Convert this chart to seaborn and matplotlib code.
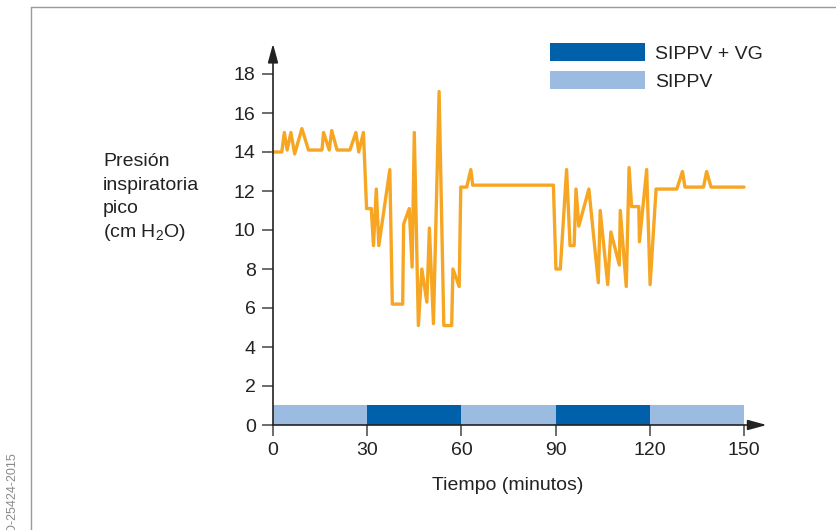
import matplotlib
matplotlib.use("Agg")
import matplotlib.pyplot as plt
from matplotlib.patches import Patch
from matplotlib.lines import Line2D
import seaborn as sns
import pandas as pd

# ---- data -------------------------------------------------------------
tiempo = [0, 2.8, 3.6, 4.5, 5.7, 6.9, 9.2, 11.3, 15.6, 16.1,
          17.9, 18.7, 20.4, 24.5, 26.4, 27.3, 28.8, 29.8, 31.3, 32.0,
          32.9, 33.7, 37.2, 38.0, 41.3, 41.6, 43.4, 44.3, 45.0, 46.3,
          47.4, 49.0, 49.8, 51.1, 52.9, 54.4, 56.9, 57.3, 59.3, 59.8,
          61.7, 63.0, 63.6, 89.3, 90.1, 91.5, 93.5, 94.6, 95.9, 96.5,
          97.4, 100.6, 103.6, 104.2, 106.6, 107.6, 110.3, 110.6, 112.5, 113.4,
          114.2, 116.5, 116.7, 119.0, 120.1, 122.0, 128.6, 130.4, 131.2, 137.1,
          138.1, 139.5, 150]
presion = [14.0, 14.0, 15.0, 14.1, 15.0, 13.9, 15.2, 14.1, 14.1, 15.0,
           14.1, 15.1, 14.1, 14.1, 15.0, 14.0, 15.0, 11.1, 11.1, 9.2,
           12.1, 9.2, 13.1, 6.2, 6.2, 10.3, 11.1, 8.1, 15.0, 5.1,
           8.0, 6.3, 10.1, 5.2, 17.1, 5.1, 5.1, 8.0, 7.1, 12.2,
           12.2, 13.1, 12.3, 12.3, 8.0, 8.0, 13.1, 9.2, 9.2, 12.1,
           10.2, 12.1, 7.3, 11.0, 7.2, 9.9, 8.2, 11.0, 7.1, 13.2,
           11.2, 11.2, 9.4, 13.1, 7.2, 12.1, 12.1, 13.0, 12.2, 12.2,
           13.0, 12.2, 12.2]

modo_inicio = [0, 30, 60, 90, 120]
modo_nombre = ["SIPPV", "SIPPV + VG", "SIPPV", "SIPPV + VG", "SIPPV"]
modo_altura = [1.05, 1.05, 1.05, 1.05, 1.05]

x_ticks = [0, 30, 60, 90, 120, 150]
y_ticks = [0, 2, 4, 6, 8, 10, 12, 14, 16, 18]

ylabel_lines = ["Presión", "inspiratoria", "pico", r"(cm H$_2$O)"]
xlabel = "Tiempo (minutos)"
codigo = "D-25424-2015"

# ---- style --------------------------------------------------------------
sns.set_theme(style="white")
plt.rcParams["font.family"] = ["Liberation Sans", "DejaVu Sans"]
plt.rcParams["mathtext.fontset"] = "custom"
plt.rcParams["mathtext.rm"] = "Liberation Sans"
plt.rcParams["mathtext.default"] = "regular"

ORANGE = "#F6A623"
DARK = "#0060A9"
LIGHT = "#9BBBE0"
colores = {"SIPPV": LIGHT, "SIPPV + VG": DARK}
FS = 14
TXT = "#222222"

W, H = 837, 530
fig = plt.figure(figsize=(W / 100, H / 100), dpi=100)
x0, x1, y0, y1 = 273, 744, 425, 74
ax = fig.add_axes([x0 / W, 1 - y0 / H, (x1 - x0) / W, (y0 - y1) / H])

# mode bands
ax.bar(modo_inicio, modo_altura, width=30, align="edge",
       color=[colores[m] for m in modo_nombre], linewidth=0, zorder=1)

# pressure line
df = pd.DataFrame({"t": tiempo, "p": presion})
sns.lineplot(data=df, x="t", y="p", ax=ax, color=ORANGE, linewidth=2.4,
             zorder=3, clip_on=False)

ax.set_xlim(0, 150)
ax.set_ylim(0, 18)
ax.set_xticks(x_ticks)
ax.set_yticks(y_ticks)
ax.set_xlabel("")
ax.set_ylabel("")
for s in ax.spines.values():
    s.set_visible(False)
ax.tick_params(axis="both", direction="out", length=8, width=1.1,
               color="#444444", labelsize=FS, labelcolor=TXT)
ax.tick_params(axis="x", pad=4, bottom=True)
ax.tick_params(axis="y", pad=4.5, left=True)

# axis arrows
arrow = dict(arrowstyle="-|>,head_length=0.95,head_width=0.26",
             color="#222222", lw=1.2, shrinkA=0, shrinkB=0)
ax.annotate("", xy=(0, 19.55), xytext=(0, 0), arrowprops=arrow,
            annotation_clip=False, zorder=5)
ax.annotate("", xy=(157.2, 0), xytext=(0, 0), arrowprops=arrow,
            annotation_clip=False, zorder=5)

# legend
handles = [Patch(facecolor=DARK, edgecolor="none", label="SIPPV + VG"),
           Patch(facecolor=LIGHT, edgecolor="none", label="SIPPV")]
ax.legend(handles=handles, loc="upper left",
          bbox_to_anchor=(550 / W, 1 - 43 / H), bbox_transform=fig.transFigure,
          frameon=False, fontsize=FS, handlelength=95 / 19.4,
          handleheight=21 / 19.4, handletextpad=0.5, labelspacing=0.42,
          borderpad=0, borderaxespad=0, labelcolor=TXT)

# y label (multi-line, left side)
for i, line in enumerate(ylabel_lines):
    fig.text(103 / W, 1 - (166.5 + i * 23.4) / H, line, fontsize=FS,
             color=TXT, ha="left", va="baseline")

# x label
fig.text(508 / W, 1 - 490 / H, xlabel, fontsize=FS, color=TXT,
         ha="center", va="baseline")

# document code (cut at the bottom edge as in the reference)
fig.text(12 / W, 1 - 452 / H, codigo, fontsize=9, color="#8a8a8a",
         rotation=90, ha="center", va="top")

# frame lines
fig.add_artist(Line2D([31 / W, 1], [1 - 7 / H, 1 - 7 / H],
                      transform=fig.transFigure, color="#9a9a9a", lw=1))
fig.add_artist(Line2D([31 / W, 31 / W], [0, 1 - 7 / H],
                      transform=fig.transFigure, color="#9a9a9a", lw=1))

fig.savefig("out.png", dpi=100)
